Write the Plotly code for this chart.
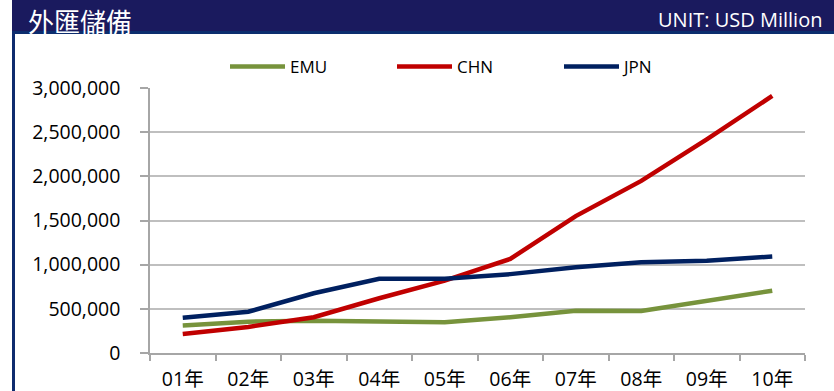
import plotly.graph_objects as go

years = ['01年', '02年', '03年', '04年', '05年', '06年', '07年', '08年', '09年', '10年']
emu = [310000, 355000, 365000, 358000, 348000, 405000, 478000, 475000, 590000, 705000]
chn = [215000, 295000, 405000, 620000, 820000, 1065000, 1550000, 1948000, 2418000, 2910000]
jpn = [400000, 467000, 676000, 840000, 840000, 893000, 970000, 1027000, 1045000, 1092000]
y_ticks = [0, 500000, 1000000, 1500000, 2000000, 2500000, 3000000]

W, H = 834, 391
L, R, T, B = 150, 805, 88, 353


def px(x):
    return (x - L) / (R - L)


def py(y):
    return (B - y) / (B - T)


tick_font = dict(family="Open Sans, Noto Sans CJK TC", size=19.5, color="#000000")

fig = go.Figure()
for name, vals, col in [("EMU", emu, "#77933c"), ("CHN", chn, "#c00000"), ("JPN", jpn, "#002060")]:
    fig.add_trace(go.Scatter(x=years, y=vals, name=name, mode="lines",
                             line=dict(color=col, width=4.5)))

fig.update_layout(
    width=W, height=H,
    margin=dict(l=L, r=W - R, t=T, b=H - B, pad=0, autoexpand=False),
    paper_bgcolor="white", plot_bgcolor="white",
    showlegend=True,
    legend=dict(orientation="h", x=px(225), xanchor="left", y=py(67), yanchor="middle",
                font=dict(family="Open Sans", size=17, color="#000000"),
                itemwidth=55, entrywidth=97, entrywidthmode="pixels",
                bgcolor="rgba(0,0,0,0)", traceorder="normal"),
    xaxis=dict(type="category", showgrid=False, showline=True, linecolor="#a6a6a6", linewidth=1.5,
               ticks="outside", tickson="boundaries", ticklen=6, tickcolor="#a6a6a6", tickwidth=1.5,
               tickfont=tick_font, ticklabelstandoff=8, range=[-0.5, 9.5]),
    yaxis=dict(range=[0, 3000000], tickvals=y_ticks, tickformat=",d", showgrid=True,
               gridcolor="#bfbfbf", gridwidth=1.5, zeroline=False, showline=True,
               linecolor="#a6a6a6", linewidth=1.5, ticks="outside", ticklen=8,
               tickcolor="#a6a6a6", tickwidth=1.5, tickfont=tick_font, ticklabelstandoff=16),
)

# header band
fig.add_shape(type="rect", xref="paper", yref="paper", x0=px(12), x1=px(836), y0=py(32), y1=py(-2),
              fillcolor="#1a1a5e", line=dict(width=0), layer="above")
fig.add_shape(type="line", xref="paper", yref="paper", x0=px(12), x1=px(836), y0=py(32.5), y1=py(32.5),
              line=dict(color="#0c2d6e", width=3), layer="above")
fig.add_shape(type="line", xref="paper", yref="paper", x0=px(13.5), x1=px(13.5), y0=py(32), y1=py(395),
              line=dict(color="#0f2b6e", width=3), layer="above")

fig.add_annotation(text="外匯儲備", xref="paper", yref="paper", x=px(26), y=py(0),
                   xanchor="left", yanchor="top", showarrow=False,
                   font=dict(family="Noto Sans CJK TC", size=26, color="white"))
fig.add_annotation(text="UNIT: USD Million", xref="paper", yref="paper", x=px(824), y=py(19),
                   xanchor="right", yanchor="middle", showarrow=False,
                   font=dict(family="Open Sans", size=20, color="white"))

fig.write_html("out.html")
